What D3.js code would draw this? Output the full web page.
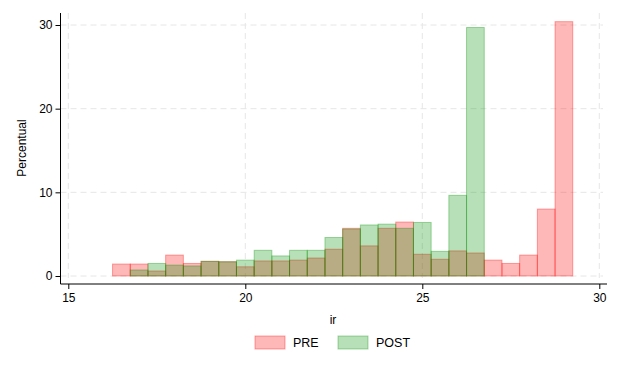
<!DOCTYPE html>
<html>
<head>
<meta charset="utf-8">
<script src="https://cdn.jsdelivr.net/npm/d3@7"></script>
<style>
  body { margin: 0; background: #fff; }
  svg { font-family: "Liberation Sans", Arial, sans-serif; }
  .grid line { stroke: #e6e6e6; stroke-dasharray: 6,4; }
  .axis path, .axis line { stroke: #000; }
  .axis text { font-size: 12px; fill: #000; }
</style>
</head>
<body>
<svg width="621" height="372"></svg>
<script>
"use strict";

// bin edges: 0.5 wide
const preStart = 16.25;
const postStart = 16.75;
const binWidth = 0.5;

const preValues = [1.43, 1.43, 0.6, 2.5, 1.5, 1.75, 1.7, 1.1, 1.8, 1.8, 1.9, 2.15, 3.2,
    5.7, 3.6, 5.7, 6.45, 2.6, 2.0, 3.0, 2.75, 1.9, 1.5, 2.5, 8.0, 30.4];
const postValues = [0.72, 1.5, 1.3, 1.2, 1.75, 1.7, 1.9, 3.07, 2.4, 3.07, 3.07, 4.6,
    5.6, 6.1, 6.2, 5.7, 6.4, 2.95, 9.64, 29.7];

const xTicks = [15, 20, 25, 30];
const yTicks = [0, 10, 20, 30];

const colorMapping = {
    PRE: {fill: 'rgb(255,0,0)', stroke: 'rgb(255,0,0)'},
    POST: {fill: 'rgb(0,145,0)', stroke: 'rgb(0,145,0)'}
};

function toBins(values, start) {
    return values.map((v, i) => ({x0: start + i * binWidth, x1: start + (i + 1) * binWidth, value: v}));
}

const svg = d3.select('svg');

const x = d3.scaleLinear().domain([15, 30]).range([68.3, 599.3]);
const y = d3.scaleLinear().domain([0, 30]).range([276, 25]);

const plotLeft = 60.5, plotRight = 607, plotTop = 13, plotBottom = 284;

// gridlines
const grid = svg.append('g').attr('class', 'grid');
grid.selectAll('.hg')
    .data(yTicks)
    .enter().append('line')
    .attr('x1', plotLeft).attr('x2', plotRight - 4)
    .attr('y1', d => y(d)).attr('y2', d => y(d));
grid.selectAll('.vg')
    .data(xTicks)
    .enter().append('line')
    .attr('x1', d => x(d)).attr('x2', d => x(d))
    .attr('y1', plotTop).attr('y2', plotBottom - 6);

// bars
function drawBars(values, start, key) {
    svg.append('g')
        .selectAll('rect')
        .data(toBins(values, start))
        .enter().append('rect')
        .attr('x', d => x(d.x0))
        .attr('width', d => x(d.x1) - x(d.x0))
        .attr('y', d => y(d.value))
        .attr('height', d => y(0) - y(d.value))
        .attr('fill', colorMapping[key].fill)
        .attr('fill-opacity', 0.28)
        .attr('stroke', colorMapping[key].stroke)
        .attr('stroke-opacity', 0.35)
        .attr('stroke-width', 1);
}
drawBars(preValues, preStart, 'PRE');
drawBars(postValues, postStart, 'POST');

// axes
svg.append('g')
    .attr('class', 'axis')
    .attr('transform', `translate(${plotLeft},0)`)
    .call(d3.axisLeft(y).tickValues(yTicks).tickSize(5).tickPadding(3))
    .call(g => g.select('.domain').attr('d', `M0,${plotTop}V${plotBottom}`));

svg.append('g')
    .attr('class', 'axis')
    .attr('transform', `translate(0,${plotBottom})`)
    .call(d3.axisBottom(x).tickValues(xTicks).tickSize(5).tickPadding(4))
    .call(g => g.select('.domain').attr('d', `M${plotLeft},0H${plotRight}`));

svg.append('text')
    .attr('transform', 'rotate(-90)')
    .attr('x', -148).attr('y', 26)
    .attr('text-anchor', 'middle')
    .attr('font-size', '12px')
    .text('Percentual');

svg.append('text')
    .attr('x', 333).attr('y', 324)
    .attr('text-anchor', 'middle')
    .attr('font-size', '12px')
    .text('ir');

// legend
const legend = [
    {key: 'PRE', x: 255},
    {key: 'POST', x: 338}
];
const lg = svg.append('g');
lg.selectAll('rect')
    .data(legend)
    .enter().append('rect')
    .attr('x', d => d.x).attr('y', 336)
    .attr('width', 30).attr('height', 13)
    .attr('fill', d => colorMapping[d.key].fill)
    .attr('fill-opacity', 0.28)
    .attr('stroke', d => colorMapping[d.key].stroke)
    .attr('stroke-opacity', 0.35);
lg.selectAll('text')
    .data(legend)
    .enter().append('text')
    .attr('x', d => d.x + 38).attr('y', 347)
    .attr('font-size', '12.5px')
    .text(d => d.key);
</script>
</body>
</html>
